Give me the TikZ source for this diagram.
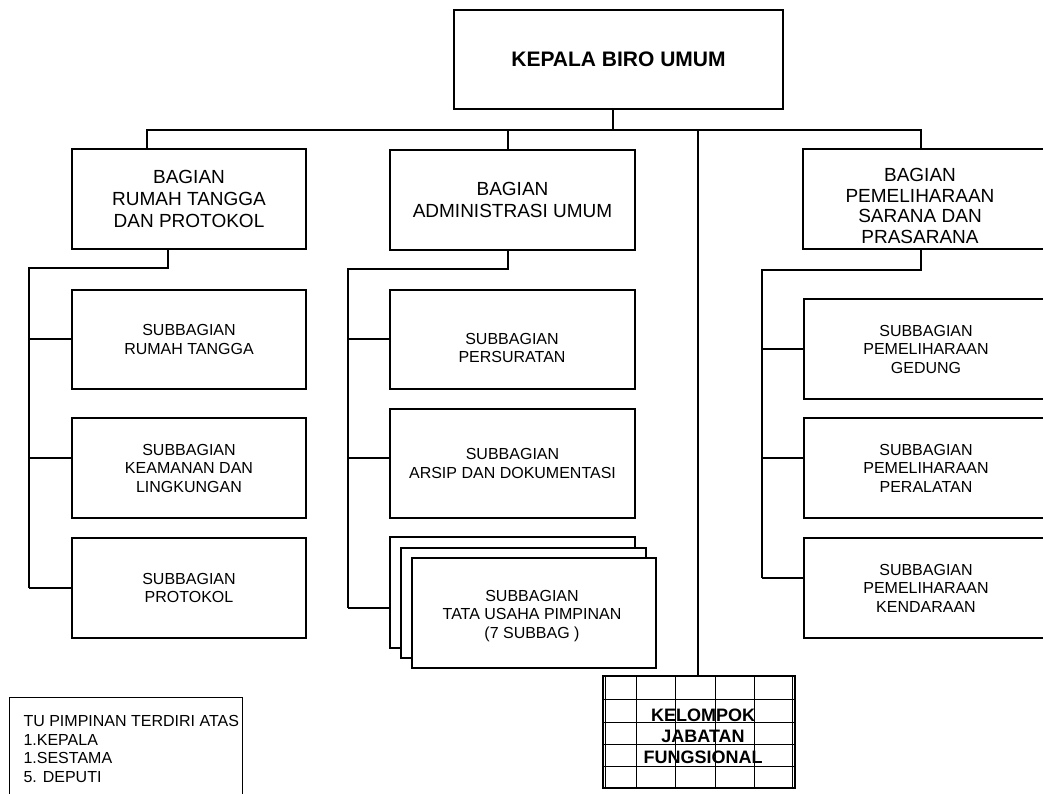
\documentclass[tikz,border=0pt]{standalone}
\usepackage{fontspec}
\setmainfont{Liberation Sans}
\begin{document}
\begin{tikzpicture}[x=1pt,y=-1pt,
  line width=1.1pt,
  box/.style={draw, line width=1.1pt, inner sep=0pt, fill=white},
  big/.style={font=\fontsize{19}{22}\selectfont, align=center},
  small/.style={font=\fontsize{16}{18.5}\selectfont, align=center},
  plain/.style={inner sep=0pt}
]
\useasboundingbox (0,0) rectangle (1043,793);

% head
\node[box, minimum width=329pt, minimum height=99pt, font=\bfseries\fontsize{21}{24}\selectfont] (top) at (618.5,59.5) {KEPALA BIRO UMUM};

% bagian
\node[box, big, minimum width=234pt, minimum height=100pt] (b1) at (189,199) {BAGIAN\\RUMAH TANGGA\\DAN PROTOKOL};
\node[box, big, minimum width=245pt, minimum height=100pt] (b2) at (512.5,200) {BAGIAN\\ADMINISTRASI UMUM};
\node[box, minimum width=243pt, minimum height=100pt] (b3) at (924.5,199) {};
\node[plain, align=center, font=\fontsize{19}{20.5}\selectfont] (b3t) at (920,206) {BAGIAN\\PEMELIHARAAN\\SARANA DAN\\PRASARANA};

% left column
\node[box, small, minimum width=234pt, minimum height=99pt] (s11) at (189,339.5) {SUBBAGIAN\\RUMAH TANGGA};
\node[box, small, minimum width=234pt, minimum height=100pt] (s12) at (189,468) {SUBBAGIAN\\KEAMANAN DAN\\LINGKUNGAN};
\node[box, small, minimum width=234pt, minimum height=100pt] (s13) at (189,588) {SUBBAGIAN\\PROTOKOL};

% middle column
\node[box, minimum width=245pt, minimum height=99pt] (s21) at (512.5,339.5) {};
\node[plain, small] (s21t) at (512,348) {SUBBAGIAN\\PERSURATAN};
\node[box, small, minimum width=245pt, minimum height=109pt] (s22) at (512.5,463.5) {SUBBAGIAN\\ARSIP DAN DOKUMENTASI};
\node[box, minimum width=245pt, minimum height=111pt] (s23a) at (512.5,592.5) {};
\node[box, minimum width=245pt, minimum height=110pt] (s23b) at (523.5,603) {};
\node[box, minimum width=244pt, minimum height=110pt] (s23c) at (534,613) {};
\node[plain, small] (s23t) at (532,616) {SUBBAGIAN\\TATA USAHA PIMPINAN\\(7 SUBBAG )};

% right column
\node[box, small, minimum width=244pt, minimum height=100pt] (s31) at (926,349) {SUBBAGIAN\\PEMELIHARAAN\\GEDUNG};
\node[box, small, minimum width=244pt, minimum height=100pt] (s32) at (926,468) {SUBBAGIAN\\PEMELIHARAAN\\PERALATAN};
\node[box, small, minimum width=244pt, minimum height=100pt] (s33) at (926,588) {SUBBAGIAN\\PEMELIHARAAN\\KENDARAAN};

% kelompok jabatan fungsional
\node[box, minimum width=192pt, minimum height=112pt] (kjf) at (699,732) {};
\begin{scope}[line width=0.8pt]
  \foreach \gx in {605.5,636,675,715,754,792.5}
    \draw (\gx,676) -- (\gx,788);
  \foreach \gy in {699,722,744,766}
    \draw (603,\gy) -- (795,\gy);
\end{scope}
\node[plain, align=center, font=\bfseries\fontsize{18}{21}\selectfont] (kjft) at (703,736) {KELOMPOK\\JABATAN\\FUNGSIONAL};

% note
\node[draw, line width=1.1pt, inner sep=0pt, minimum width=233pt, minimum height=110pt, anchor=north west] (note) at (9,697) {};
\node[plain, anchor=north west, align=left, font=\fontsize{16}{18.5}\selectfont] (notet) at (23,715) {TU PIMPINAN TERDIRI ATAS\\1.KEPALA\\1.SESTAMA\\5. DEPUTI};

% top bus
\coordinate (t0) at (613,130);
\coordinate (x1) at (147,130);
\coordinate (x2) at (508,130);
\coordinate (x3) at (698,130);
\coordinate (x4) at (921,130);
\draw (top.south -| t0) -- (t0);
\draw (b1.north -| x1) -- (x1) -- (x4) -- (b3.north -| x4);
\draw (b2.north -| x2) -- (x2);
\draw (x3) -- (kjf.north -| x3);

% left tree
\coordinate (L0) at (168,268);
\coordinate (Lt) at (29,268);
\coordinate (L1) at (29,339);
\coordinate (L2) at (29,458);
\coordinate (L3) at (29,588);
\draw (b1.south -| L0) -- (L0) -- (Lt) -- (L3);
\draw (L1) -- (s11.west |- L1);
\draw (L2) -- (s12.west |- L2);
\draw (L3) -- (s13.west |- L3);

% middle tree
\coordinate (M0) at (508,269);
\coordinate (Mt) at (348,269);
\coordinate (M1) at (348,339);
\coordinate (M2) at (348,458);
\coordinate (M3) at (348,608);
\draw (b2.south -| M0) -- (M0) -- (Mt) -- (M3);
\draw (M1) -- (s21.west |- M1);
\draw (M2) -- (s22.west |- M2);
\draw (M3) -- (s23a.west |- M3);

% right tree
\coordinate (R0) at (921,270);
\coordinate (Rt) at (762,270);
\coordinate (R1) at (762,349);
\coordinate (R2) at (762,458);
\coordinate (R3) at (762,578);
\draw (b3.south -| R0) -- (R0) -- (Rt) -- (R3);
\draw (R1) -- (s31.west |- R1);
\draw (R2) -- (s32.west |- R2);
\draw (R3) -- (s33.west |- R3);
\end{tikzpicture}
\end{document}
